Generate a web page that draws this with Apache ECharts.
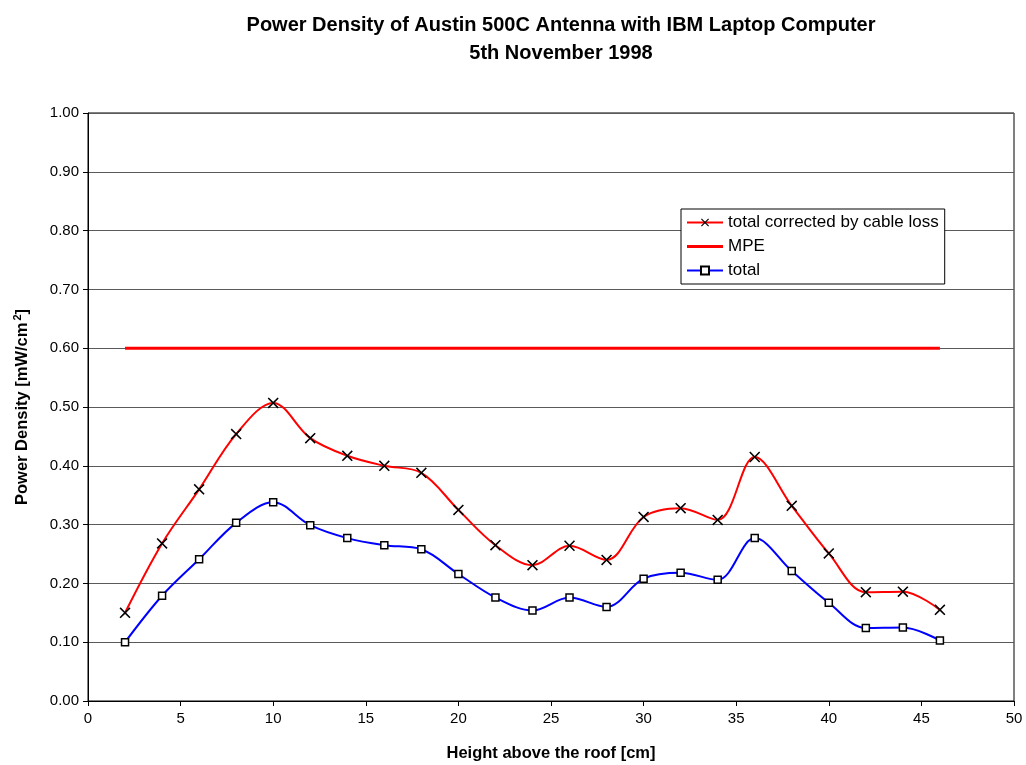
<!DOCTYPE html>
<html><head><meta charset="utf-8">
<script src="https://cdn.jsdelivr.net/npm/echarts@6/dist/echarts.min.js"></script>
<style>html,body{margin:0;padding:0;background:#fff}#c{width:1026px;height:765px}</style>
</head><body><div id="c"></div>
<script>
const heights = [2,4,6,8,10,12,14,16,18,20,22,24,26,28,30,32,34,36,38,40,42,44,46];
const corrected = [0.150,0.268,0.360,0.454,0.507,0.447,0.417,0.400,0.388,0.325,0.265,0.231,0.264,0.240,0.313,0.328,0.308,0.415,0.332,0.251,0.185,0.186,0.155];
const total = [0.100,0.179,0.241,0.303,0.338,0.299,0.277,0.265,0.258,0.216,0.176,0.154,0.176,0.160,0.208,0.218,0.206,0.277,0.221,0.167,0.124,0.125,0.103];
const mpeX = [2,46];
const mpeValue = 0.6;
const seriesNames = ['total corrected by cable loss','MPE','total'];

const pair = (xs, ys) => xs.map((x,i)=>[x, ys[i]]);
const font = 'Liberation Sans, Arial, sans-serif';
const crossPath = 'path://M0,1 L1,0 L5,4 L9,0 L10,1 L6,5 L10,9 L9,10 L5,6 L1,10 L0,9 L4,5 Z';

const chart = echarts.init(document.getElementById('c'));
chart.setOption({
  animation:false,
  backgroundColor:'#fff',
  textStyle:{fontFamily:font},
  title:{
    text:'Power Density of Austin 500C Antenna with IBM Laptop Computer\n5th November 1998',
    left:556, top:6, textAlign:'center',
    textStyle:{fontSize:20,fontWeight:'bold',color:'#000',fontFamily:font,lineHeight:28}
  },
  legend:{
    orient:'vertical', left:681, top:209,
    backgroundColor:'#fff', borderColor:'#000', borderWidth:1,
    padding:[5,6,5,5], itemGap:7, itemWidth:36, itemHeight:10,
    textStyle:{fontSize:17,color:'#000',fontFamily:font},
    data:[
      {name:seriesNames[0]},
      {name:seriesNames[1], icon:'path://M0,0L36,0L36,3L0,3Z'},
      {name:seriesNames[2]}
    ]
  },
  grid:{left:88,right:12,top:113,bottom:64,show:true,borderColor:'#000',borderWidth:1,
        containLabel:false,outerBoundsMode:'none'},
  xAxis:{
    type:'value', min:0, max:50, interval:5,
    name:'Height above the roof [cm]', nameLocation:'middle', nameGap:44,
    nameTextStyle:{fontSize:16.5,fontWeight:'bold',color:'#000',fontFamily:font},
    axisLine:{onZero:false,lineStyle:{color:'#000',width:1}},
    axisTick:{show:true,length:5,lineStyle:{color:'#000'}},
    axisLabel:{fontSize:15,color:'#000',margin:10,fontFamily:font},
    splitLine:{show:false}
  },
  yAxis:{
    type:'value', min:0, max:1, interval:0.1,
    name:'{n|Power Density [mW/cm}{s|2}{n|]}', nameLocation:'middle', nameGap:56,
    nameTextStyle:{rich:{n:{fontSize:16.5,fontWeight:'bold',color:'#000',fontFamily:font},
                         s:{fontSize:11,fontWeight:'bold',color:'#000',fontFamily:font,verticalAlign:'top',padding:[0,0,9,2]}}},
    axisLine:{show:true,lineStyle:{color:'#000',width:1}},
    axisTick:{show:true,length:5,lineStyle:{color:'#000'}},
    axisLabel:{fontSize:15,color:'#000',margin:9,fontFamily:font,formatter:v=>v.toFixed(2)},
    splitLine:{show:true,lineStyle:{color:'#5a5a5a',width:1}}
  },
  series:[
    {name:seriesNames[0],type:'line',smooth:0.35,data:pair(heights,corrected),
     symbol:crossPath,symbolSize:11,showAllSymbol:true,
     lineStyle:{color:'#ff0000',width:2},itemStyle:{color:'#000'},z:3},
    {name:seriesNames[1],type:'line',data:mpeX.map(x=>[x,mpeValue]),symbol:'none',
     lineStyle:{color:'#ff0000',width:3},itemStyle:{color:'#ff0000'},z:2},
    {name:seriesNames[2],type:'line',smooth:0.35,data:pair(heights,total),
     symbol:'rect',symbolSize:7,showAllSymbol:true,
     lineStyle:{color:'#0000ff',width:2},itemStyle:{color:'#fff',borderColor:'#000',borderWidth:1.5},z:3}
  ]
});
</script></body></html>
